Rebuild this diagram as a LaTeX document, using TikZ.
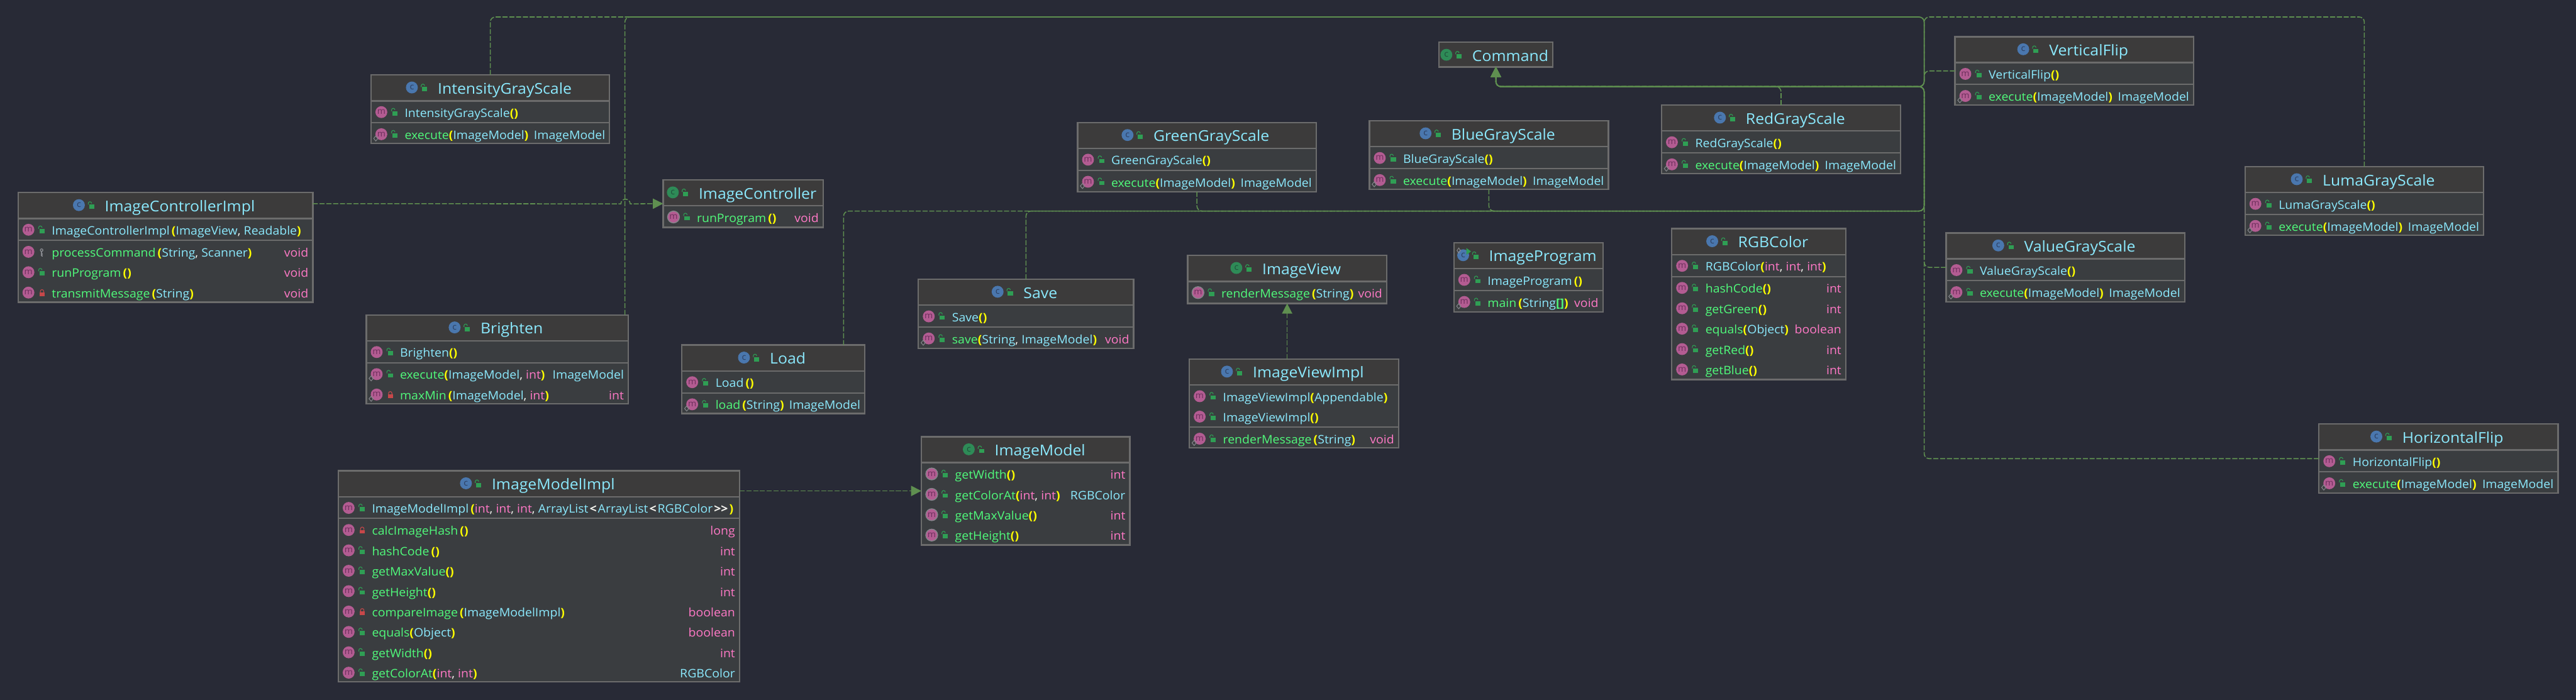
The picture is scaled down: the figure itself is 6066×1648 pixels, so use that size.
\documentclass[tikz,border=0pt]{standalone}
\usepackage{fontspec}
\setmainfont[FakeStretch=1.05]{Open Sans}
\usepackage{xcolor}
\usetikzlibrary{arrows.meta,positioning,shapes.geometric}
\definecolor{umlbg}{HTML}{282A36}
\definecolor{umlheadfill}{HTML}{3C3B3B}
\definecolor{umlbodyfill}{HTML}{3A3D40}
\definecolor{umlborder}{HTML}{6C6C6C}
\definecolor{umlwire}{HTML}{5F8F50}
\definecolor{umlcyan}{HTML}{8BE9FD}
\definecolor{umlgreen}{HTML}{50FA7B}
\definecolor{umlyellow}{HTML}{FFFF00}
\definecolor{umlpink}{HTML}{FF79C6}
\definecolor{umlwhite}{HTML}{F8F8F2}
\definecolor{lockgreen}{HTML}{2F9E54}
\definecolor{lockred}{HTML}{C7484A}
\definecolor{markgray}{HTML}{85878C}
\definecolor{umlblueicon}{HTML}{4A77AE}
\definecolor{umlblueink}{HTML}{2C3E60}
\definecolor{umlgreenicon}{HTML}{2E8B57}
\definecolor{umlgreenink}{HTML}{1F4F3B}
\definecolor{umlpinkicon}{HTML}{B35C92}
\definecolor{umlpinkink}{HTML}{6E2F5D}
\tikzset{
  umlpicture/.style={x=1pt, y=-1pt},
  umlbox/.style={draw=umlborder, fill=umlbodyfill, line width=3.5pt, inner sep=0pt, outer sep=0pt},
  umlhead/.style={umlbox, fill=umlheadfill},
  umltitle/.style={inner sep=0pt, outer sep=0pt, text=umlcyan, font=\fontsize{35}{40}\selectfont},
  umltext/.style={inner sep=0pt, outer sep=0pt, font=\fontsize{27.5}{32}\selectfont},
  umlicon/.style={circle, inner sep=0pt, minimum size=28pt, font=\fontsize{20}{20}\selectfont},
  umlclassicon/.style={umlicon, fill=umlblueicon, text=umlblueink},
  umlfaceicon/.style={umlicon, fill=umlgreenicon, text=umlgreenink},
  umlmethicon/.style={umlicon, fill=umlpinkicon, text=umlpinkink},
  umlsepline/.style={draw=umlborder, line width=3pt},
  umlmark/.style={draw=markgray, line width=1.5pt},
  umlwireline/.style={draw=umlwire, line width=2.3pt, dash pattern=on 12pt off 4pt, rounded corners=12pt, -{Triangle[length=24pt, width=24pt, fill=umlwire]}}
}
\newcommand{\tcls}[1]{\textcolor{umlcyan}{#1}}
\newcommand{\tmeth}[1]{\textcolor{umlgreen}{#1}}
\newcommand{\tprim}[1]{\textcolor{umlpink}{#1}}
\newcommand{\popen}{\textcolor{umlyellow}{\bfseries(}}
\newcommand{\pclose}{\textcolor{umlyellow}{\bfseries)}}
\newcommand{\tcomma}{\textcolor{umlwhite}{, }}
\newcommand{\tangle}[1]{\hspace{3pt}\textcolor{umlwhite}{\bfseries #1}\hspace{3pt}}
\newcommand{\lockpub}{\fill[lockgreen] (0,-5) rectangle (12,5);
  \draw[lockgreen, line width=1.6pt] (-2,-5) -- (-2,-8) arc[start angle=180, end angle=0, radius=4pt];}
\newcommand{\lockpri}{\fill[lockred] (0,-3) rectangle (12,5);
  \draw[lockred, line width=1.6pt] (2,-3) -- (2,-6) arc[start angle=180, end angle=0, radius=4pt] -- (10,-3);}
\newcommand{\lockpro}{\draw[markgray, line width=2pt] (5,-7) circle[radius=3pt];
  \draw[markgray, line width=3pt] (5,-4) -- (5,7) (5,3) -- (8,3) (5,7) -- (8,7);}
\newcommand{\markover}{\draw[umlmark] (13,4) -- (18,10) -- (13,16) -- (8,10) -- cycle;}
\newcommand{\markabs}{\draw[markgray, line width=2pt] (26,0) circle[radius=14pt];}
\newcommand{\umlclass}[7]{
  \def\umlid{#1}\def\umlx{#2}\def\umlxx{#4}\def\umln{0}
  \pgfmathsetmacro\umlcx{(#2+#4)/2}
  \pgfmathsetmacro\umlcy{(#3+#5)/2}
  \pgfmathsetmacro\umlw{#4-#2-3}
  \pgfmathsetmacro\umlh{#5-#3-3}
  \pgfmathsetmacro\umlhh{min(61,#5-#3-3)}
  \pgfmathsetmacro\umly{#3+64}
  \node[umlbox, minimum width=\umlw pt, minimum height=\umlh pt] (#1) at (\umlcx,\umlcy) {};
  \node[umlhead, minimum width=\umlw pt, minimum height=\umlhh pt, anchor=north] (#1-head) at (\umlcx,{#3+1.5}) {};
  \node[umltitle, anchor=base] (#1-title) at ({\umlcx+34},{#3+46}) {#7};
  \node[#6, anchor=center] (#1-icon) at ([shift={(-61pt,15pt)}]#1-title.base west) {\ifx#6umlfaceicon I\else c\fi};
  \begin{scope}[shift={([shift={(-37pt,11pt)}]#1-title.base west)}]\lockpub\end{scope}
}
\newcommand{\umlrow}[4]{
  \pgfmathsetmacro\umlcy{\umly+25}
  \pgfmathtruncatemacro\umln{\umln+1}
  \node[umlmethicon] (\umlid-m\umln) at ({\umlx+26},\umlcy) {m};
  \begin{scope}[shift={({\umlx+52},{\umlcy+3})}]#1\end{scope}
  \begin{scope}[shift={({\umlx},\umlcy)}]#2\end{scope}
  \node[umltext, anchor=base west] (\umlid-l\umln) at ({\umlx+81},{\umlcy+12}) {#3};
  \node[umltext, anchor=base east] (\umlid-t\umln) at ({\umlxx-12},{\umlcy+12}) {#4};
  \pgfmathsetmacro\umly{\umly+48}
}
\newcommand{\umlsep}{
  \pgfmathsetmacro\umlsy{\umly+2}
  \draw[umlsepline] (\umlx,\umlsy) -- (\umlxx,\umlsy);
  \pgfmathsetmacro\umly{\umly+4}
}
\newcommand{\umlcmd}[6]{
  \umlclass{#1}{#2}{#3}{#4}{#5}{umlclassicon}{#6}
  \umlrow{\lockpub}{}{\tcls{#6}\popen\pclose}{}
  \umlsep
  \umlrow{\lockpub}{\markover}{\tmeth{execute}\popen\tcls{ImageModel}\pclose}{\tcls{ImageModel}}
}
\begin{document}
\begin{tikzpicture}[umlpicture]
\fill[umlbg] (0,0) rectangle (6066,1648);
\useasboundingbox (0,0) rectangle (6066,1648);

\umlclass{command}{3387}{98}{3658}{159}{umlfaceicon}{Command}
\umlcmd{intensity}{872}{175}{1437}{339}{IntensityGrayScale}
\umlcmd{green}{2536}{287}{3101}{453}{GreenGrayScale}
\umlcmd{blue}{3223}{283}{3789}{447}{BlueGrayScale}
\umlcmd{red}{3911}{246}{4477}{410}{RedGrayScale}
\umlcmd{vflip}{4602}{85}{5167}{249}{VerticalFlip}
\umlcmd{luma}{5285}{391}{5850}{555}{LumaGrayScale}
\umlcmd{value}{4581}{547}{5146}{712}{ValueGrayScale}
\umlcmd{hflip}{5459}{997}{6025}{1163}{HorizontalFlip}

\umlclass{ctrlimpl}{41}{452}{738}{713}{umlclassicon}{ImageControllerImpl}
\umlrow{\lockpub}{}{\tcls{ImageControllerImpl}\,\popen\tcls{ImageView}\tcomma\tcls{Readable}\pclose}{}
\umlsep
\umlrow{\lockpro}{}{\tmeth{processCommand}\,\popen\tcls{String}\tcomma\tcls{Scanner}\pclose}{\tprim{void}}
\umlrow{\lockpub}{}{\tmeth{runProgram}\,\popen\pclose}{\tprim{void}}
\umlrow{\lockpri}{}{\tmeth{transmitMessage}\,\popen\tcls{String}\pclose}{\tprim{void}}

\umlclass{ctrl}{1560}{422}{1940}{537}{umlfaceicon}{ImageController}
\umlrow{\lockpub}{\markabs}{\tmeth{runProgram}\,\popen\pclose}{\tprim{void}}

\umlclass{brighten}{861}{740}{1481}{952}{umlclassicon}{Brighten}
\umlrow{\lockpub}{}{\tcls{Brighten}\popen\pclose}{}
\umlsep
\umlrow{\lockpub}{\markover}{\tmeth{execute}\popen\tcls{ImageModel}\tcomma\tprim{int}\pclose}{\tcls{ImageModel}}
\umlrow{\lockpri}{\markover}{\tmeth{maxMin}\,\popen\tcls{ImageModel}\tcomma\tprim{int}\pclose}{\tprim{int}}

\umlclass{load}{1604}{811}{2038}{975}{umlclassicon}{Load}
\umlrow{\lockpub}{}{\tcls{Load}\,\popen\pclose}{}
\umlsep
\umlrow{\lockpub}{\markover}{\tmeth{load}\,\popen\tcls{String}\pclose}{\tcls{ImageModel}}

\umlclass{save}{2161}{656}{2671}{822}{umlclassicon}{Save}
\umlrow{\lockpub}{}{\tcls{Save}\popen\pclose}{}
\umlsep
\umlrow{\lockpub}{\markover}{\tmeth{save}\popen\tcls{String}\tcomma\tcls{ImageModel}\pclose}{\tprim{void}}

\umlclass{view}{2795}{600}{3267}{716}{umlfaceicon}{ImageView}
\umlrow{\lockpub}{\markabs}{\tmeth{renderMessage}\,\popen\tcls{String}\pclose}{\tprim{void}}

\umlclass{viewimpl}{2799}{844}{3295}{1056}{umlclassicon}{ImageViewImpl}
\umlrow{\lockpub}{}{\tcls{ImageViewImpl}\popen\tcls{Appendable}\pclose}{}
\umlrow{\lockpub}{}{\tcls{ImageViewImpl}\popen\pclose}{}
\umlsep
\umlrow{\lockpub}{\markover}{\tmeth{renderMessage}\,\popen\tcls{String}\pclose}{\tprim{void}}

\umlclass{program}{3422}{570}{3776}{736}{umlclassicon}{ImageProgram}
\fill[lockgreen] (3453,584) -- (3464,592) -- (3453,600) -- cycle;
\draw[umlmark] (3435,584) -- (3439,590) -- (3435,596) -- (3431,590) -- cycle;
\umlrow{\lockpub}{}{\tcls{ImageProgram}\,\popen\pclose}{}
\umlsep
\umlrow{\lockpub}{\markover}{\tmeth{main}\,\popen\tcls{String}\tmeth{\bfseries[]}\pclose}{\tprim{void}}

\umlclass{rgb}{3935}{537}{4348}{895}{umlclassicon}{RGBColor}
\umlrow{\lockpub}{}{\tcls{RGBColor}\popen\tprim{int}\tcomma\tprim{int}\tcomma\tprim{int}\pclose}{}
\umlsep
\umlrow{\lockpub}{}{\tmeth{hashCode}\popen\pclose}{\tprim{int}}
\umlrow{\lockpub}{}{\tmeth{getGreen}\popen\pclose}{\tprim{int}}
\umlrow{\lockpub}{}{\tmeth{equals}\popen\tcls{Object}\pclose}{\tprim{boolean}}
\umlrow{\lockpub}{}{\tmeth{getRed}\popen\pclose}{\tprim{int}}
\umlrow{\lockpub}{}{\tmeth{getBlue}\popen\pclose}{\tprim{int}}

\umlclass{modelimpl}{795}{1107}{1743}{1607}{umlclassicon}{ImageModelImpl}
\umlrow{\lockpub}{}{\tcls{ImageModelImpl}\,\popen\tprim{int}\tcomma\tprim{int}\tcomma\tprim{int}\tcomma\tcls{ArrayList}\tangle{<}\tcls{ArrayList}\tangle{<}\tcls{RGBColor}\tangle{>{}>}\pclose}{}
\umlsep
\umlrow{\lockpri}{}{\tmeth{calcImageHash}\,\popen\pclose}{\tprim{long}}
\umlrow{\lockpub}{}{\tmeth{hashCode}\,\popen\pclose}{\tprim{int}}
\umlrow{\lockpub}{}{\tmeth{getMaxValue}\popen\pclose}{\tprim{int}}
\umlrow{\lockpub}{}{\tmeth{getHeight}\popen\pclose}{\tprim{int}}
\umlrow{\lockpri}{}{\tmeth{compareImage}\,\popen\tcls{ImageModelImpl}\pclose}{\tprim{boolean}}
\umlrow{\lockpub}{}{\tmeth{equals}\popen\tcls{Object}\pclose}{\tprim{boolean}}
\umlrow{\lockpub}{}{\tmeth{getWidth}\popen\pclose}{\tprim{int}}
\umlrow{\lockpub}{}{\tmeth{getColorAt}\popen\tprim{int}\tcomma\tprim{int}\pclose}{\tcls{RGBColor}}

\umlclass{model}{2168}{1027}{2662}{1285}{umlfaceicon}{ImageModel}
\umlrow{\lockpub}{\markabs}{\tmeth{getWidth}\popen\pclose}{\tprim{int}}
\umlrow{\lockpub}{\markabs}{\tmeth{getColorAt}\popen\tprim{int}\tcomma\tprim{int}\pclose}{\tcls{RGBColor}}
\umlrow{\lockpub}{\markabs}{\tmeth{getMaxValue}\popen\pclose}{\tprim{int}}
\umlrow{\lockpub}{\markabs}{\tmeth{getHeight}\popen\pclose}{\tprim{int}}

\coordinate (topbend) at (4531,40);
\coordinate (midbend) at (4531,204);
\coordinate (lowbend) at (4531,497);
\coordinate (knee) at (command.south |- midbend);

\draw[umlwireline] (intensity.north) |- (topbend) -- (midbend) -- (knee) -- (command.south);
\draw[umlwireline] ([xshift=-8pt]brighten.north east) |- (topbend) -- (midbend) -- (knee) -- (command.south);
\draw[umlwireline] (luma.north) |- (topbend) -- (midbend) -- (knee) -- (command.south);
\draw[umlwireline] (vflip.west) -| (midbend) -- (knee) -- (command.south);
\draw[umlwireline] (red.north) |- (knee) -- (command.south);
\draw[umlwireline] ([xshift=-50pt]load.north east) |- (lowbend) -- (midbend) -- (knee) -- (command.south);
\draw[umlwireline] (save.north) |- (lowbend) -- (midbend) -- (knee) -- (command.south);
\draw[umlwireline] (green.south) |- (lowbend) -- (midbend) -- (knee) -- (command.south);
\draw[umlwireline] (blue.south) |- (lowbend) -- (midbend) -- (knee) -- (command.south);
\draw[umlwireline] (value.west) -| (midbend) -- (knee) -- (command.south);
\draw[umlwireline] (hflip.west) -| (midbend) -- (knee) -- (command.south);

\draw[umlwireline, rounded corners=0pt] (ctrlimpl.east |- ctrl.west) -- (1462,480) arc[start angle=180, end angle=0, radius=11pt] -- (ctrl.west);
\draw[umlwireline] (modelimpl.east |- model.west) -- (model.west);
\draw[umlwireline] (viewimpl.north -| view.south) -- (view.south);
\end{tikzpicture}
\end{document}
